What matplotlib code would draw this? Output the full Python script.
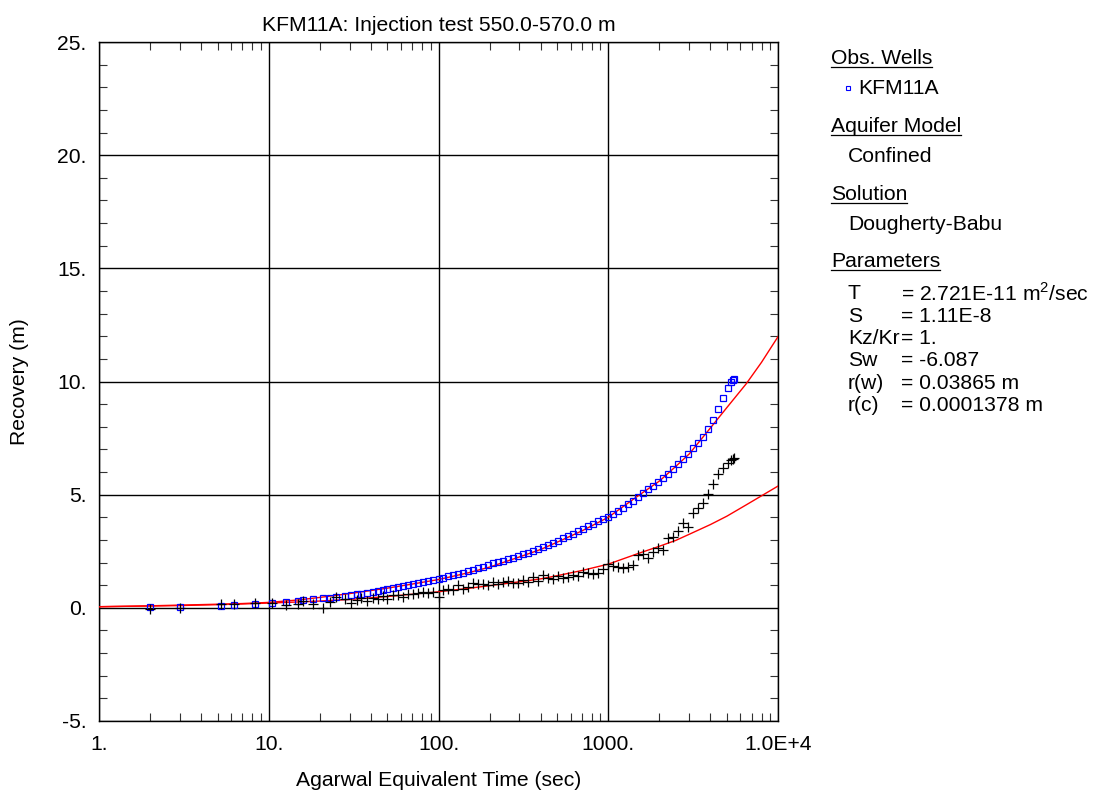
import matplotlib
matplotlib.use("Agg")
import matplotlib.pyplot as plt
import numpy as np
from matplotlib import ticker
from matplotlib.lines import Line2D

plt.rcParams['font.family'] = ['Liberation Sans', 'DejaVu Sans']
plt.rcParams['mathtext.fontset'] = 'custom'
plt.rcParams['mathtext.rm'] = 'Liberation Sans'

# observed recovery (blue squares) and derivative (black crosses)
t_obs = [2, 3, 5.2, 6.2, 8.3, 10.4, 12.7, 14.9, 15.9, 18.3, 21, 23, 25, 28, 30.5,
         33, 35, 38, 41, 44, 47, 50, 54, 58, 62, 66, 71, 76, 81, 87, 93, 100,
         107, 114, 122, 131, 140, 150, 160, 171, 183, 196, 210, 225, 241, 258,
         276, 295, 316, 338, 362, 387, 414, 443, 474, 507, 543, 581, 622, 665,
         712, 762, 815, 872, 933, 998, 1068, 1143, 1223, 1309, 1400, 1498, 1603,
         1715, 1835, 1964, 2101, 2248, 2406, 2574, 2754, 2947, 3153, 3374, 3610,
         3863, 4133, 4423, 4732, 5064, 5300, 5420, 5500]
recovery = [0.03, 0.05, 0.10, 0.13, 0.17, 0.21, 0.26, 0.31, 0.33, 0.37, 0.42, 0.45,
            0.49, 0.53, 0.56, 0.60, 0.63, 0.67, 0.71, 0.75, 0.79, 0.83, 0.87, 0.91,
            0.95, 0.99, 1.04, 1.09, 1.13, 1.18, 1.23, 1.29, 1.34, 1.39, 1.45, 1.50,
            1.56, 1.62, 1.68, 1.75, 1.82, 1.89, 1.96, 2.02, 2.08, 2.15, 2.22, 2.29,
            2.36, 2.43, 2.51, 2.59, 2.67, 2.76, 2.86, 2.96, 3.07, 3.17, 3.28, 3.39,
            3.50, 3.61, 3.72, 3.84, 3.93, 4.03, 4.16, 4.29, 4.43, 4.58, 4.74, 4.90,
            5.07, 5.24, 5.40, 5.55, 5.72, 5.92, 6.13, 6.35, 6.58, 6.81, 7.04, 7.28,
            7.55, 7.88, 8.30, 8.78, 9.28, 9.72, 10.00, 10.08, 10.12]
derivative = [-0.03, 0.00, 0.17, 0.17, 0.20, 0.20, 0.13, 0.17, 0.30, 0.17, -0.02, 0.25,
              0.50, 0.40, 0.22, 0.35, 0.45, 0.30, 0.45, 0.38, 0.52, 0.40, 0.55, 0.58,
              0.50, 0.60, 0.62, 0.65, 0.68, 0.65, 0.70, 0.49, 0.80, 0.85, 0.80, 1.00,
              0.85, 0.90, 1.08, 1.05, 1.07, 1.00, 1.15, 1.05, 1.12, 1.18, 1.10, 1.08,
              1.25, 1.15, 1.37, 1.20, 1.44, 1.30, 1.26, 1.40, 1.30, 1.38, 1.45, 1.40,
              1.60, 1.55, 1.50, 1.55, 1.70, 1.93, 1.85, 1.82, 1.75, 1.82, 1.90, 2.33,
              2.40, 2.18, 2.45, 2.63, 2.55, 3.10, 3.14, 3.40, 3.73, 3.55, 4.17, 4.40,
              4.62, 5.05, 5.45, 5.90, 6.20, 6.40, 6.53, 6.58, 6.60]

# Dougherty-Babu fitted curve and its derivative (red)
t_fit = [1, 1.5, 2, 3, 5, 7, 10, 15, 20, 30, 50, 70, 100, 150, 200, 300, 400,
         500, 700, 1000, 1500, 2000, 2500, 3000, 4000, 5000, 6500, 8000, 10000]
fit_recovery = [0.05, 0.07, 0.09, 0.12, 0.16, 0.19, 0.24, 0.35, 0.46, 0.63, 0.87,
                1.05, 1.25, 1.55, 1.80, 2.25, 2.58, 2.90, 3.40, 4.00, 4.95, 5.60,
                6.25, 6.80, 7.95, 8.85, 9.90, 10.85, 11.98]
fit_derivative = [0.05, 0.07, 0.08, 0.10, 0.14, 0.17, 0.21, 0.26, 0.30, 0.37, 0.50,
                  0.60, 0.71, 0.86, 0.98, 1.15, 1.28, 1.42, 1.65, 1.93, 2.40, 2.72,
                  2.98, 3.25, 3.68, 4.05, 4.55, 4.95, 5.38]

x_ticks = [1, 10, 100, 1000, 10000]
x_labels = ['1.', '10.', '100.', '1000.', '1.0E+4']
y_ticks = [-5, 0, 5, 10, 15, 20, 25]
y_labels = ['-5.', '0.', '5.', '10.', '15.', '20.', '25.']

W, H = 1099, 795
FS = 15.2
fig = plt.figure(figsize=(W / 100, H / 100), dpi=100)
ax = fig.add_axes([99 / W, 1 - 721 / H, 679 / W, 679 / H])

ax.plot(t_fit, fit_recovery, color='#ff0000', lw=1.0, zorder=3)
ax.plot(t_fit, fit_derivative, color='#ff0000', lw=1.0, zorder=3)
ax.plot(t_obs, recovery, ls='none', marker='s', ms=5, mfc='none',
        mec='#0000ff', mew=0.9, zorder=4)
ax.plot(t_obs, derivative, ls='none', marker='+', ms=7.5, color='black',
        mew=0.9, zorder=4)

ax.set_xscale('log')
ax.set_xlim(1, 10000)
ax.set_ylim(-5, 25)
ax.set_xticks(x_ticks)
ax.set_xticklabels(x_labels)
ax.set_yticks(y_ticks)
ax.set_yticklabels(y_labels)
ax.xaxis.set_minor_locator(ticker.LogLocator(base=10, subs=np.arange(2, 10)))
ax.xaxis.set_minor_formatter(ticker.NullFormatter())
ax.yaxis.set_minor_locator(ticker.MultipleLocator(1))

ax.tick_params(which='both', direction='in', top=True, right=True,
               labelsize=FS, colors='black')
ax.tick_params(which='major', length=0)
ax.tick_params(which='minor', length=6, width=0.8, color='#333333')
ax.tick_params(axis='x', which='major', pad=10)
ax.tick_params(axis='y', which='major', pad=9)
ax.grid(True, which='major', color='black', lw=1.0)
for s in ax.spines.values():
    s.set_linewidth(1.0)
    s.set_color('black')

ax.set_title('KFM11A: Injection test 550.0-570.0 m', fontsize=FS, pad=8)
ax.set_xlabel('Agarwal Equivalent Time (sec)', fontsize=FS, labelpad=12)
ax.set_ylabel('Recovery (m)', fontsize=FS, labelpad=20)


def fx(px):
    return px / W


def fy(py):
    return 1 - py / H


headers = []
headers.append(fig.text(fx(831), fy(58), 'Obs. Wells', fontsize=FS, va='center'))
fig.text(fx(858), fy(88), 'KFM11A', fontsize=FS, va='center')
fig.add_artist(Line2D([fx(847.5)], [fy(88)], marker='s', ms=3.5, mfc='none',
                      mec='#0000ff', mew=0.8, ls='none'))
headers.append(fig.text(fx(831), fy(126), 'Aquifer Model', fontsize=FS, va='center'))
fig.text(fx(848), fy(156), 'Confined', fontsize=FS, va='center')
headers.append(fig.text(fx(831), fy(194), 'Solution', fontsize=FS, va='center'))
fig.text(fx(848), fy(224), 'Dougherty-Babu', fontsize=FS, va='center')
headers.append(fig.text(fx(831), fy(262), 'Parameters', fontsize=FS, va='center'))

param_names = ['T', 'S', 'Kz/Kr', 'Sw', 'r(w)', 'r(c)']
param_values = [r'= 2.721E-11 m$^{\mathrm{2}}$/sec', '= 1.11E-8', '= 1.',
                '= -6.087', '= 0.03865 m', '= 0.0001378 m']
for i, (n, v) in enumerate(zip(param_names, param_values)):
    yy = 294 + i * 22.3
    fig.text(fx(848), fy(yy), n, fontsize=FS, va='center')
    fig.text(fx(901), fy(yy), v, fontsize=FS, va='center')

fig.canvas.draw()
r = fig.canvas.get_renderer()
for t in headers:
    bb = t.get_window_extent(r).transformed(fig.transFigure.inverted())
    fig.add_artist(Line2D([bb.x0, bb.x1], [bb.y0 + 1 / H, bb.y0 + 1 / H],
                          color='black', lw=0.9))

fig.savefig('out.png', dpi=100)
